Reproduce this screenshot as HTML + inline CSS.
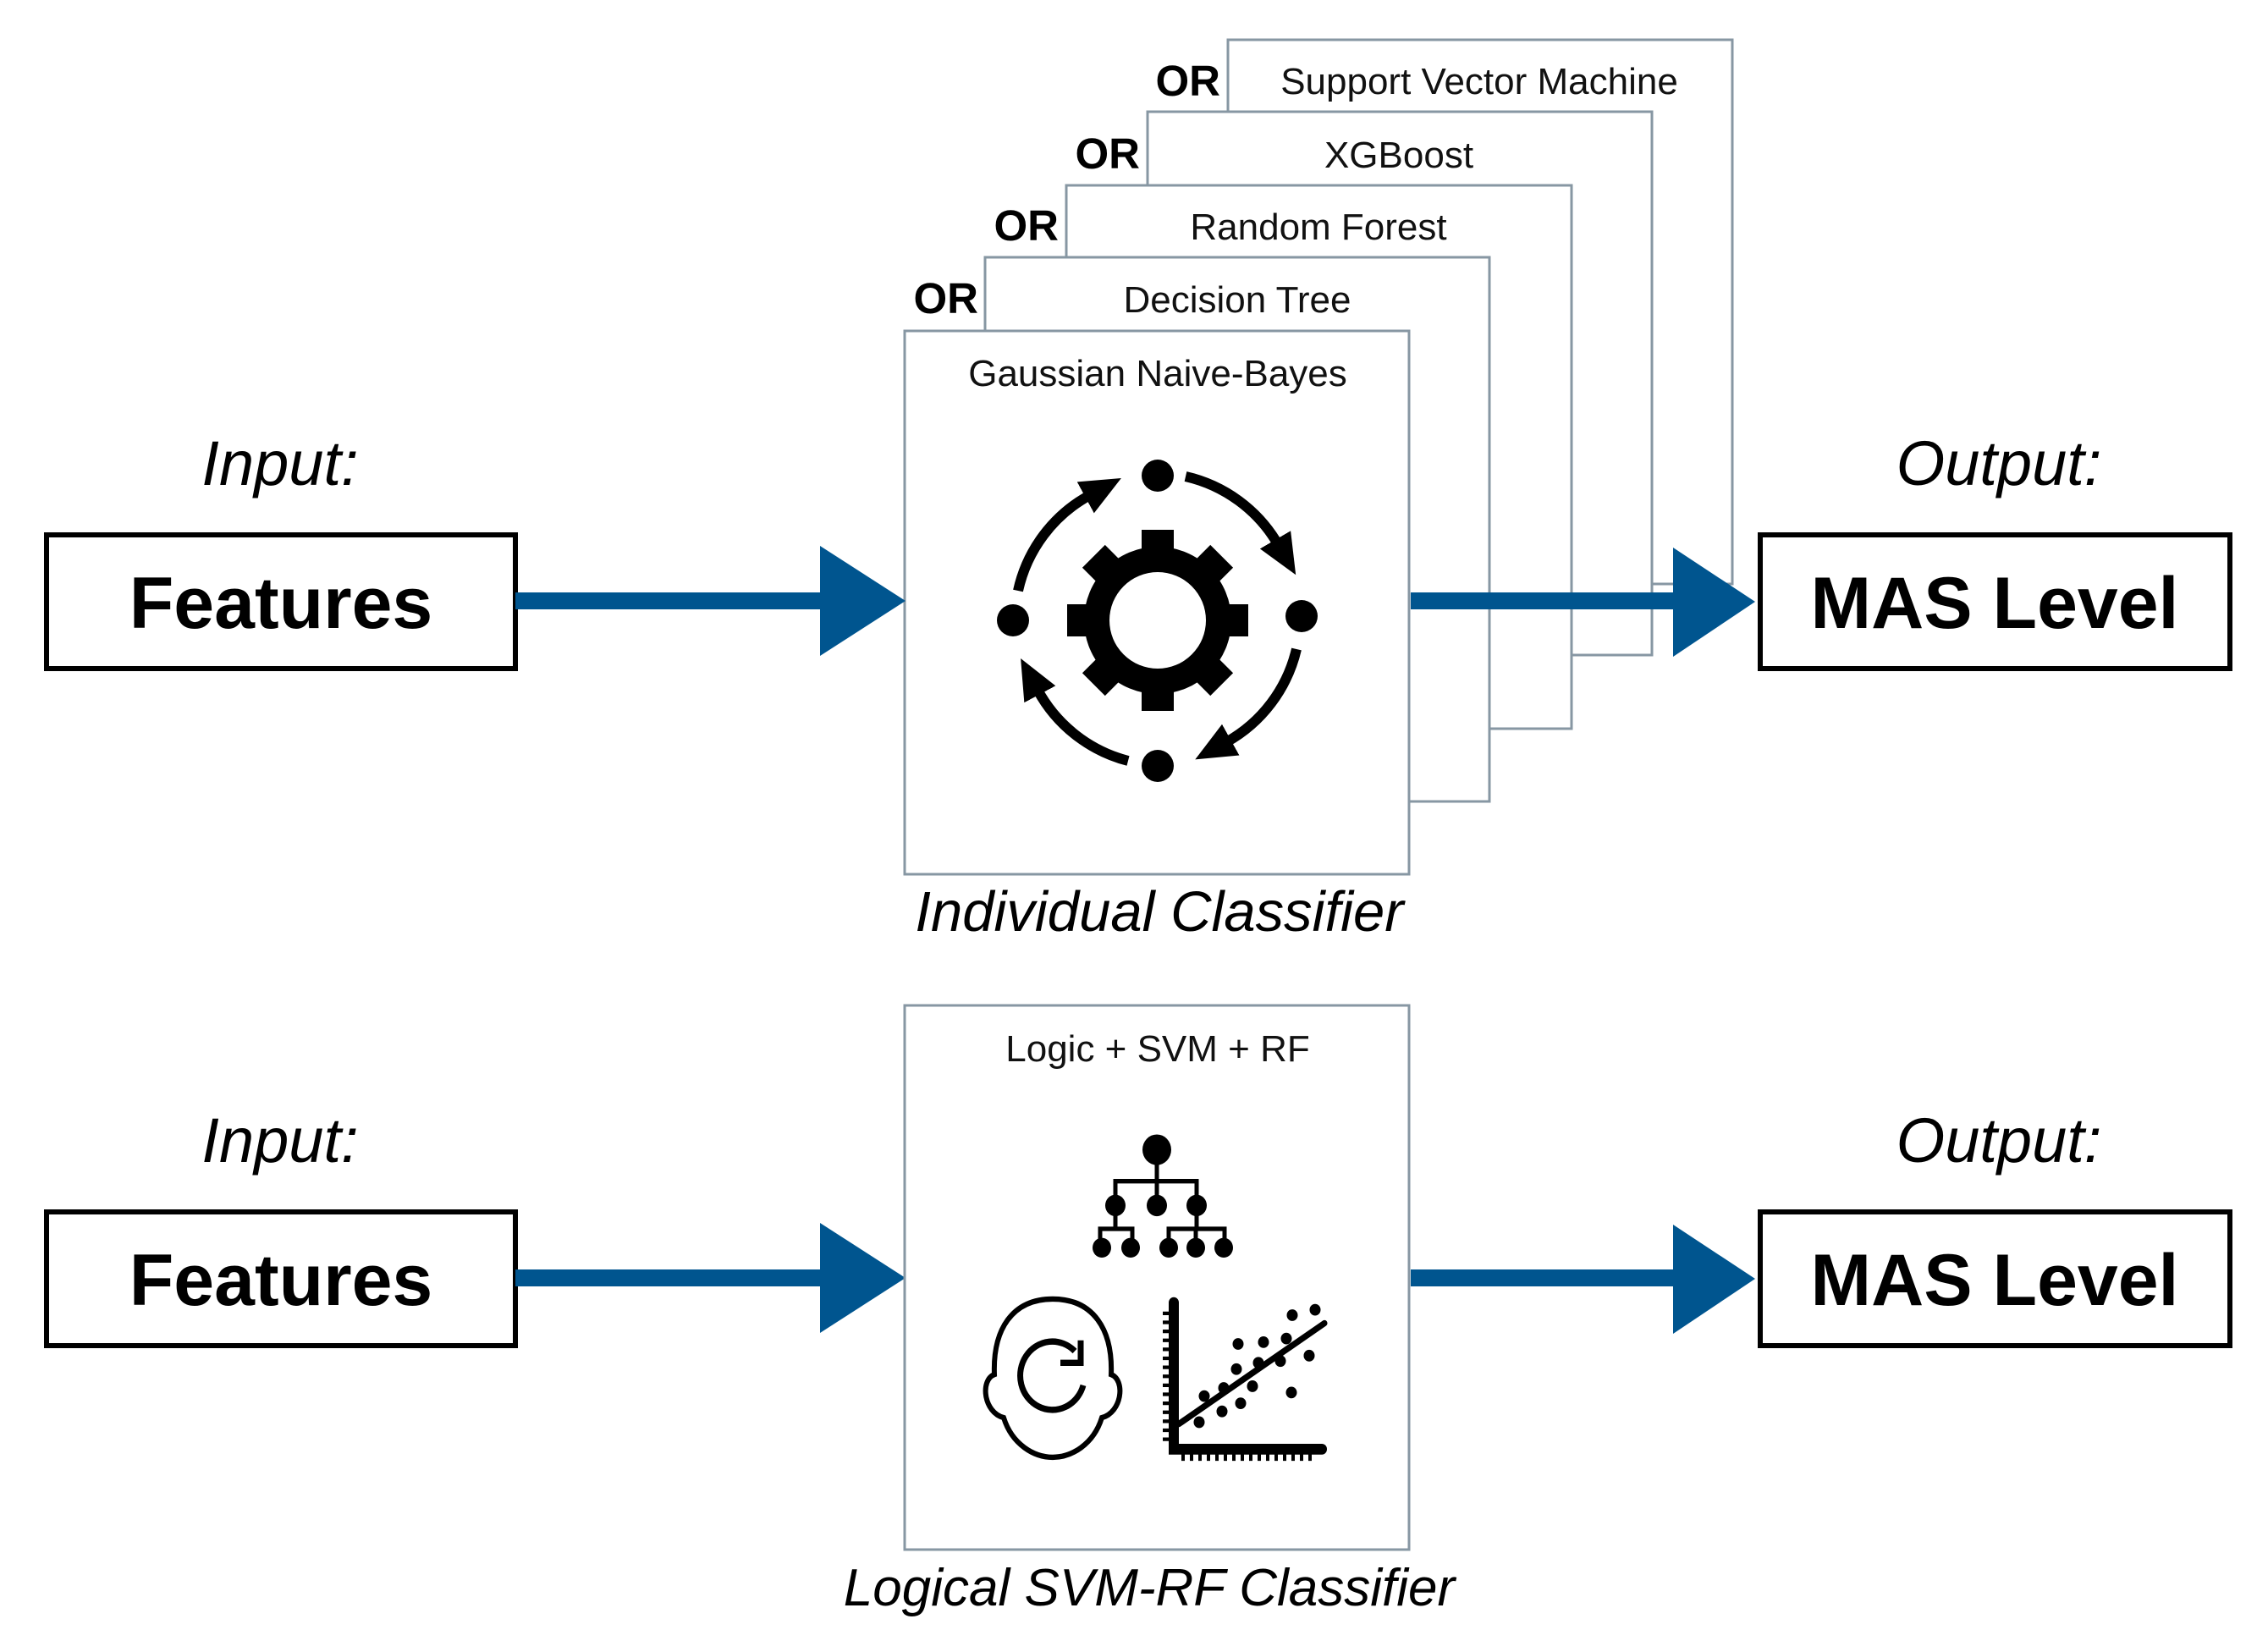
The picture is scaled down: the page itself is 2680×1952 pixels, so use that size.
<!DOCTYPE html>
<html><head><meta charset="utf-8"><style>
html,body{margin:0;padding:0;background:#fff}
svg{display:block}
text{font-family:"Liberation Sans",sans-serif}
</style></head><body>
<svg width="2680" height="1952" viewBox="0 0 2680 1952" xmlns="http://www.w3.org/2000/svg">
<defs>
<marker id="ah" markerUnits="userSpaceOnUse" markerWidth="60" markerHeight="50" refX="6" refY="21" orient="auto">
<path d="M0,0 L48,21 L0,42 Z" fill="#000"/>
</marker>
</defs>
<rect width="2680" height="1952" fill="#fff"/>

<text x="331" y="573" font-size="74" font-style="italic" text-anchor="middle">Input:</text>
<text x="2362" y="573" font-size="74" font-style="italic" text-anchor="middle">Output:</text>

<rect x="55" y="632" width="554" height="158" fill="#fff" stroke="#000" stroke-width="6"/>
<text x="332" y="742" font-size="86" font-weight="bold" text-anchor="middle">Features</text>
<rect x="2080" y="632" width="555" height="158" fill="#fff" stroke="#000" stroke-width="6"/>
<text x="2357" y="742" font-size="86" font-weight="bold" text-anchor="middle">MAS Level</text>

<g stroke="#8797a3" stroke-width="3" fill="#fff">
<rect x="1451" y="47" width="596" height="643"/>
<rect x="1356" y="132" width="596" height="642"/>
<rect x="1260" y="219" width="597" height="642"/>
<rect x="1164" y="304" width="596" height="643"/>
<rect x="1069" y="391" width="596" height="642"/>
</g>
<g font-size="44" text-anchor="middle" fill="#111">
<text x="1748" y="111">Support Vector Machine</text>
<text x="1653" y="198">XGBoost</text>
<text x="1558" y="283">Random Forest</text>
<text x="1462" y="369">Decision Tree</text>
<text x="1368" y="456">Gaussian Naive-Bayes</text>
</g>
<g font-size="51" font-weight="bold" text-anchor="end">
<text x="1442" y="113">OR</text>
<text x="1347" y="199">OR</text>
<text x="1251" y="284">OR</text>
<text x="1156" y="370">OR</text>
</g>

<g transform="translate(1368,733)">
<circle r="87" fill="#000"/>
<g fill="#000">
<rect x="-19" y="-107" width="38" height="40"/>
<rect x="-19" y="-107" width="38" height="40" transform="rotate(45)"/>
<rect x="-19" y="-107" width="38" height="40" transform="rotate(90)"/>
<rect x="-19" y="-107" width="38" height="40" transform="rotate(135)"/>
<rect x="-19" y="-107" width="38" height="40" transform="rotate(180)"/>
<rect x="-19" y="-107" width="38" height="40" transform="rotate(225)"/>
<rect x="-19" y="-107" width="38" height="40" transform="rotate(270)"/>
<rect x="-19" y="-107" width="38" height="40" transform="rotate(315)"/>
</g>
<circle r="57" fill="#fff"/>
</g>
<g fill="#000">
<circle cx="1368" cy="562" r="19"/>
<circle cx="1538" cy="728" r="19"/>
<circle cx="1197" cy="733" r="19"/>
<circle cx="1368" cy="905" r="19"/>
</g>
<g fill="none" stroke="#000" stroke-width="12" marker-end="url(#ah)">
<path d="M1401,563 A170,170 0 0 1 1510,643"/>
<path d="M1532,767 A170,170 0 0 1 1449,877"/>
<path d="M1333,899 A170,170 0 0 1 1226,815"/>
<path d="M1203,698 A170,170 0 0 1 1288,585"/>
</g>

<g fill="#00558f">
<rect x="609" y="700" width="364" height="20"/>
<polygon points="969,645 1070,710 969,775"/>
<rect x="1667" y="700" width="316" height="20"/>
<polygon points="1977,647 2074,711 1977,776"/>
</g>
<text x="1370" y="1100" font-size="67" font-style="italic" text-anchor="middle">Individual Classifier</text>

<text x="331" y="1373" font-size="74" font-style="italic" text-anchor="middle">Input:</text>
<text x="2362" y="1373" font-size="74" font-style="italic" text-anchor="middle">Output:</text>
<rect x="55" y="1432" width="554" height="158" fill="#fff" stroke="#000" stroke-width="6"/>
<text x="332" y="1542" font-size="86" font-weight="bold" text-anchor="middle">Features</text>
<rect x="2080" y="1432" width="555" height="158" fill="#fff" stroke="#000" stroke-width="6"/>
<text x="2357" y="1542" font-size="86" font-weight="bold" text-anchor="middle">MAS Level</text>
<g fill="#00558f">
<rect x="609" y="1500" width="364" height="20"/>
<polygon points="969,1445 1070,1510 969,1575"/>
<rect x="1667" y="1500" width="316" height="20"/>
<polygon points="1977,1447 2074,1511 1977,1576"/>
</g>

<rect x="1069" y="1188" width="596" height="643" fill="#fff" stroke="#8797a3" stroke-width="3"/>
<text x="1368" y="1254" font-size="44" text-anchor="middle" fill="#111">Logic + SVM + RF</text>

<g transform="translate(0,1180) scale(1,1.0625) translate(0,-1180)">
<g stroke="#000" stroke-width="5" fill="none">
<path d="M1367,1348 V1410 M1318,1410 V1383 H1414 V1410 M1318,1410 V1436 M1300,1457 V1436 H1338 V1457 M1414,1410 V1436 M1381,1457 V1436 H1447 V1457 M1413,1436 V1457"/>
</g>
<g fill="#000">
<circle cx="1367" cy="1348" r="17"/>
<circle cx="1318" cy="1410" r="12"/><circle cx="1367" cy="1410" r="12"/><circle cx="1414" cy="1410" r="12"/>
<circle cx="1302" cy="1457" r="11"/><circle cx="1336" cy="1457" r="11"/><circle cx="1381" cy="1457" r="11"/><circle cx="1413" cy="1457" r="11"/><circle cx="1446" cy="1457" r="11"/>
</g>

<path d="M1244,1514 C1292,1514 1315,1548 1313,1598 C1330,1604 1326,1640 1302,1646 C1292,1676 1266,1690 1244,1690 C1222,1690 1196,1676 1186,1646 C1162,1640 1158,1604 1175,1598 C1173,1548 1196,1514 1244,1514 Z" fill="none" stroke="#000" stroke-width="6"/>
<path d="M1280,1610 A38,38 0 1 1 1270,1572" fill="none" stroke="#000" stroke-width="7"/>
<path d="M1277,1560 V1585 H1253" fill="none" stroke="#000" stroke-width="7"/>

<g stroke="#000" fill="none">
<path d="M1387,1518 V1681 H1562" stroke-width="12" stroke-linecap="round"/>
<path d="M1374,1530 h8 M1374,1540 h8 M1374,1550 h8 M1374,1560 h8 M1374,1570 h8 M1374,1580 h8 M1374,1590 h8 M1374,1600 h8 M1374,1610 h8 M1374,1620 h8 M1374,1630 h8 M1374,1640 h8 M1374,1650 h8 M1374,1660 h8 M1374,1670 h8" stroke-width="4"/>
<path d="M1398,1686 v8 M1408,1686 v8 M1418,1686 v8 M1428,1686 v8 M1438,1686 v8 M1448,1686 v8 M1458,1686 v8 M1468,1686 v8 M1478,1686 v8 M1488,1686 v8 M1498,1686 v8 M1508,1686 v8 M1518,1686 v8 M1528,1686 v8 M1538,1686 v8 M1548,1686 v8" stroke-width="4"/>
<path d="M1393,1653 L1565,1541" stroke-width="7" stroke-linecap="round"/>
</g>
<g fill="#000">
<circle cx="1527" cy="1532" r="6.5"/><circle cx="1554" cy="1526" r="6.5"/><circle cx="1463" cy="1564" r="6.5"/><circle cx="1493" cy="1562" r="6.5"/>
<circle cx="1520" cy="1558" r="6.5"/><circle cx="1461" cy="1592" r="6.5"/><circle cx="1487" cy="1585" r="6.5"/><circle cx="1513" cy="1583" r="6.5"/>
<circle cx="1547" cy="1577" r="6.5"/><circle cx="1423" cy="1622" r="6.5"/><circle cx="1446" cy="1613" r="6.5"/><circle cx="1480" cy="1611" r="6.5"/>
<circle cx="1526" cy="1618" r="6.5"/><circle cx="1444" cy="1639" r="6.5"/><circle cx="1466" cy="1630" r="6.5"/><circle cx="1417" cy="1651" r="6.5"/>
</g>
</g>

<text x="1358" y="1897" font-size="62" font-style="italic" text-anchor="middle">Logical SVM-RF Classifier</text>
</svg>
</body></html>
